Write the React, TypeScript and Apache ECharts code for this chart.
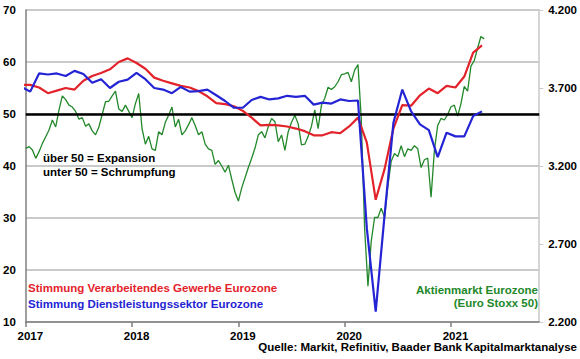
import React, { useEffect, useRef } from "react";
import * as echarts from "echarts";

// Monthly PMI readings, Dec 2016 .. Apr 2021 (first value = Dec 2016)
const pmiStartYear = 2016;
const pmiStartMonth = 11; // December (0-based)
const manufacturing = [55.6, 55.6, 55.1, 54.0, 54.5, 55.0, 54.7, 56.4, 57.3, 57.9, 58.6, 60.0, 60.7, 59.8, 58.7, 57.0, 56.4, 55.9, 55.4, 55.1, 54.4, 53.4, 52.1, 51.9, 51.5, 50.6, 49.3, 47.8, 47.9, 47.8, 47.6, 47.2, 46.7, 45.9, 45.9, 46.5, 46.3, 47.6, 49.3, 44.5, 33.5, 39.4, 47.2, 51.7, 51.6, 53.6, 54.9, 54.0, 55.4, 55.1, 57.2, 61.8, 63.2];
const services = [55.2, 54.3, 57.8, 57.6, 57.8, 57.3, 58.3, 57.7, 56.0, 56.7, 55.0, 56.2, 56.6, 57.9, 56.7, 55.0, 54.7, 54.0, 55.2, 54.3, 54.4, 54.7, 53.6, 52.5, 51.2, 51.2, 52.7, 53.3, 52.8, 53.0, 53.5, 53.3, 53.5, 51.8, 52.2, 52.0, 52.8, 52.5, 52.6, 28.0, 12.0, 30.5, 48.3, 54.7, 50.5, 48.0, 46.9, 41.7, 46.4, 45.7, 45.7, 49.6, 50.5];

// Euro Stoxx 50, sampled 32 times per year from Jan 2017
const stoxxPerYear = 32;
const stoxx = [3313, 3324, 3303, 3249, 3292, 3345, 3388, 3431, 3495, 3450, 3560, 3650, 3625, 3590, 3578, 3550, 3500, 3510, 3455, 3470, 3425, 3400, 3450, 3530, 3612, 3615, 3650, 3680, 3565, 3550, 3590, 3550, 3510, 3600, 3665, 3440, 3340, 3390, 3310, 3300, 3420, 3400, 3480, 3525, 3578, 3450, 3500, 3400, 3425, 3465, 3510, 3460, 3400, 3420, 3340, 3310, 3300, 3210, 3235, 3200, 3160, 3205, 3115, 3030, 2975, 3060, 3125, 3190, 3250, 3315, 3400, 3420, 3380, 3452, 3505, 3484, 3356, 3399, 3300, 3420, 3480, 3525, 3470, 3335, 3340, 3390, 3455, 3560, 3440, 3590, 3634, 3705, 3690, 3708, 3740, 3785, 3790, 3800, 3740, 3815, 3850, 3500, 2800, 2430, 2720, 2870, 2870, 2930, 2870, 3070, 3230, 3280, 3260, 3330, 3260, 3310, 3300, 3330, 3310, 3190, 3240, 3250, 3000, 3300, 3460, 3505, 3495, 3530, 3580, 3590, 3520, 3600, 3710, 3680, 3840, 3875, 3955, 4030, 4015];

const leftMin = 10, leftMax = 70, leftStep = 10;
const rightMin = 2200, rightMax = 4200, rightStep = 500;
const xMin = 2017, xMax = 2021.83;

const FONT = '"Liberation Sans", Arial, sans-serif';
const RED = "#e3232b";
const BLUE = "#2424d4";
const GREEN = "#22882a";

function monthT(i: number) {
  const m = pmiStartMonth + i;
  return pmiStartYear + (m + 0.5) / 12;
}

export default function App() {
  const ref = useRef<HTMLDivElement>(null);
  useEffect(() => {
    if (!ref.current) return;
    const chart = echarts.init(ref.current, null, { renderer: "svg" });
    const redData = manufacturing.map((v, i) => [monthT(i), v]);
    const blueData = services.map((v, i) => [monthT(i), v]);
    const greenData = stoxx.map((v, i) => [xMin + i / stoxxPerYear, v - rightMin]);
    const txt = (text: string, x: number, y: number, fill: string, align = "left") => ({
      type: "text",
      x,
      y,
      silent: true,
      style: {
        text,
        fill,
        fontFamily: FONT,
        fontWeight: "bold",
        fontSize: 11.5,
        align,
        verticalAlign: "middle",
      },
    });
    chart.setOption({
      animation: false,
      backgroundColor: "#ffffff",
      grid: { left: 24, right: 40, top: 10, bottom: 37, containLabel: false },
      xAxis: {
        type: "value",
        min: xMin,
        max: xMax,
        interval: 1,
        axisLine: { show: true, lineStyle: { color: "#7f7f7f", width: 1.5 } },
        axisTick: { show: true, length: 5, lineStyle: { color: "#7f7f7f", width: 1.5 } },
        splitLine: { show: false },
        axisLabel: {
          showMaxLabel: false,
          margin: 8,
          padding: [0, 0, 0, 9],
          color: "#000",
          fontFamily: FONT,
          fontWeight: "bold",
          fontSize: 11.5,
          formatter: (v: number) => (Number.isInteger(v) ? String(v) : ""),
        },
      },
      yAxis: [
        {
          type: "value",
          min: leftMin,
          max: leftMax,
          interval: leftStep,
          position: "left",
          axisLine: { show: true, lineStyle: { color: "#7f7f7f", width: 1.5 } },
          axisTick: { show: false },
          splitLine: { show: true, lineStyle: { color: "#b8b8b8", width: 1.5 } },
          axisLabel: {
            margin: 10,
            color: "#000",
            fontFamily: FONT,
            fontWeight: "bold",
            fontSize: 11.5,
          },
        },
        {
          type: "value",
          min: 0,
          max: rightMax - rightMin,
          interval: rightStep,
          position: "right",
          axisLine: { show: true, lineStyle: { color: "#c8c8c8", width: 1.5 } },
          axisTick: { show: true, length: 4, lineStyle: { color: "#c8c8c8" } },
          splitLine: { show: false },
          axisLabel: {
            margin: 9,
            color: "#000",
            fontFamily: FONT,
            fontWeight: "bold",
            fontSize: 11.5,
            formatter: (v: number) => {
              const n = v + rightMin;
              return Math.floor(n / 1000) + "." + String(n % 1000).padStart(3, "0");
            },
          },
        },
      ],
      series: [
        {
          type: "line",
          name: "Euro Stoxx 50",
          yAxisIndex: 1,
          data: greenData,
          showSymbol: false,
          symbol: "none",
          lineStyle: { color: GREEN, width: 1.3 },
          z: 1,
        },
        {
          type: "line",
          name: "Verarbeitendes Gewerbe",
          data: redData,
          showSymbol: false,
          symbol: "none",
          lineStyle: { color: RED, width: 2.2 },
          z: 3,
          markLine: {
            silent: true,
            symbol: "none",
            label: { show: false },
            lineStyle: { color: "#000", width: 2.5, type: "solid" },
            data: [{ yAxis: 50 }],
            z: 2,
          },
        },
        {
          type: "line",
          name: "Dienstleistungssektor",
          data: blueData,
          showSymbol: false,
          symbol: "none",
          lineStyle: { color: BLUE, width: 2.2 },
          z: 4,
        },
      ],
      graphic: [
        txt("über 50 = Expansion", 43, 158, "#000"),
        txt("unter 50 = Schrumpfung", 43, 172, "#000"),
        txt("Stimmung Verarbeitendes Gewerbe Eurozone", 28, 288, RED),
        txt("Stimmung Dienstleistungssektor Eurozone", 28, 304, BLUE),
        txt("Aktienmarkt Eurozone", 538, 290, GREEN, "right"),
        txt("(Euro Stoxx 50)", 538, 303, GREEN, "right"),
        txt("Quelle: Markit, Refinitiv, Baader Bank Kapitalmarktanalyse", 577, 347, "#000", "right"),
      ],
    });
    return () => chart.dispose();
  }, []);
  return (
    <div
      ref={ref}
      style={{ position: "fixed", left: 0, top: 0, width: 580, height: 359, background: "#fff" }}
    />
  );
}
